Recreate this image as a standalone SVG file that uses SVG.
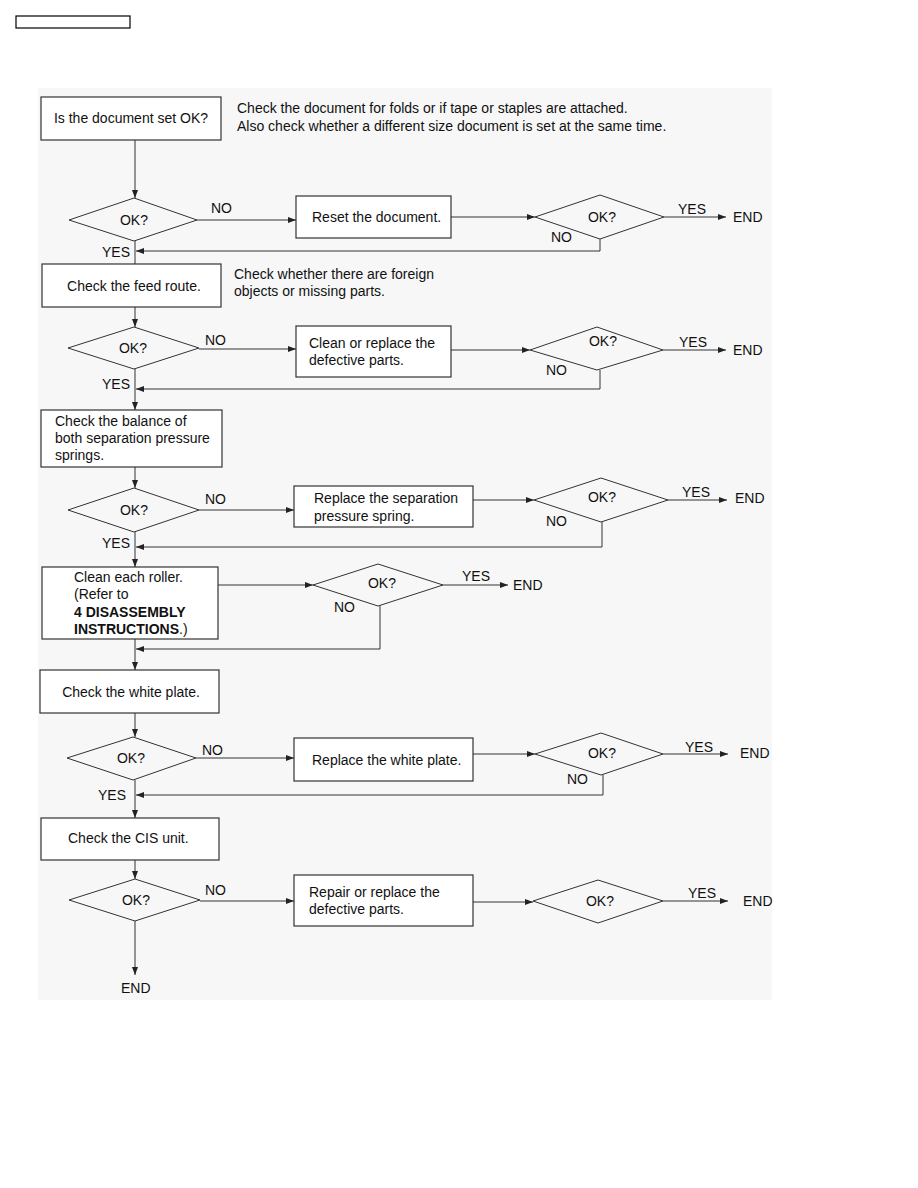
<svg xmlns="http://www.w3.org/2000/svg" width="918" height="1188" viewBox="0 0 918 1188">
<style>
.bx{fill:#fff;stroke:#333;stroke-width:1.2}
.dm{fill:none;stroke:#333;stroke-width:1}
.ln{fill:none;stroke:#333;stroke-width:1}
text{font-family:"Liberation Sans",Arial,sans-serif;font-size:14px;fill:#111}
.c{text-anchor:middle}
.b{font-weight:bold}
</style>
<defs>
<marker id="ah" markerUnits="userSpaceOnUse" markerWidth="8" markerHeight="6" refX="8" refY="3" orient="auto">
<path d="M0,0 L8,3 L0,6 z" fill="#222"/>
</marker>
</defs>
<rect x="0" y="0" width="918" height="1188" fill="#fff"/>
<rect x="38" y="88" width="734" height="912" fill="#f7f7f7"/>
<rect x="16" y="16" width="114" height="12" fill="#fff" stroke="#000" stroke-width="1.2"/>

<g id="connectors">
<path class="ln" d="M135,140 V198" marker-end="url(#ah)"/>
<path class="ln" d="M197,220 H296" marker-end="url(#ah)"/>
<path class="ln" d="M451,217 H535" marker-end="url(#ah)"/>
<path class="ln" d="M664,217 H726" marker-end="url(#ah)"/>
<path class="ln" d="M600,239 V251 H136" marker-end="url(#ah)"/>
<path class="ln" d="M135,241 V264"/>
<path class="ln" d="M135,307 V327" marker-end="url(#ah)"/>
<path class="ln" d="M199,349 H296" marker-end="url(#ah)"/>
<path class="ln" d="M451,350 H530" marker-end="url(#ah)"/>
<path class="ln" d="M663,350 H726" marker-end="url(#ah)"/>
<path class="ln" d="M600,370 V389 H136" marker-end="url(#ah)"/>
<path class="ln" d="M135,369 V410" marker-end="url(#ah)"/>
<path class="ln" d="M135,467 V488" marker-end="url(#ah)"/>
<path class="ln" d="M199,510 H294" marker-end="url(#ah)"/>
<path class="ln" d="M473,500 H534" marker-end="url(#ah)"/>
<path class="ln" d="M668,500 H727" marker-end="url(#ah)"/>
<path class="ln" d="M602,522 V547 H136" marker-end="url(#ah)"/>
<path class="ln" d="M135,532 V567" marker-end="url(#ah)"/>
<path class="ln" d="M217,585 H313" marker-end="url(#ah)"/>
<path class="ln" d="M443,585 H508" marker-end="url(#ah)"/>
<path class="ln" d="M380,606 V649 H136" marker-end="url(#ah)"/>
<path class="ln" d="M135,639 V670" marker-end="url(#ah)"/>
<path class="ln" d="M135,713 V737" marker-end="url(#ah)"/>
<path class="ln" d="M196,758 H294" marker-end="url(#ah)"/>
<path class="ln" d="M473,754 H535" marker-end="url(#ah)"/>
<path class="ln" d="M663,754 H728" marker-end="url(#ah)"/>
<path class="ln" d="M603,775 V795 H136" marker-end="url(#ah)"/>
<path class="ln" d="M135,780 V818" marker-end="url(#ah)"/>
<path class="ln" d="M135,860 V879" marker-end="url(#ah)"/>
<path class="ln" d="M200,901 H294" marker-end="url(#ah)"/>
<path class="ln" d="M473,902 H533" marker-end="url(#ah)"/>
<path class="ln" d="M663,901 H728" marker-end="url(#ah)"/>
<path class="ln" d="M135,921 V975" marker-end="url(#ah)"/>
</g>

<g id="labels">
<text x="211" y="213">NO</text>
<text x="678" y="214">YES</text>
<text x="733" y="222">END</text>
<text x="551" y="242">NO</text>
<text x="102" y="257">YES</text>
<text x="205" y="345">NO</text>
<text x="679" y="347">YES</text>
<text x="733" y="355">END</text>
<text x="546" y="375">NO</text>
<text x="102" y="389">YES</text>
<text x="205" y="504">NO</text>
<text x="682" y="497">YES</text>
<text x="735" y="503">END</text>
<text x="546" y="526">NO</text>
<text x="102" y="548">YES</text>
<text x="462" y="581">YES</text>
<text x="513" y="590">END</text>
<text x="334" y="612">NO</text>
<text x="202" y="755">NO</text>
<text x="685" y="752">YES</text>
<text x="740" y="758">END</text>
<text x="567" y="784">NO</text>
<text x="98" y="800">YES</text>
<text x="205" y="895">NO</text>
<text x="688" y="898">YES</text>
<text x="743" y="906">END</text>
<text x="121" y="993">END</text>
</g>

<g id="note1">
<text x="237" y="113">Check the document for folds or if tape or staples are attached.</text>
<text x="237" y="131">Also check whether a different size document is set at the same time.</text>
</g>
<g id="note2">
<text x="234" y="279">Check whether there are foreign</text>
<text x="234" y="296">objects or missing parts.</text>
</g>

<g id="n1"><rect class="bx" x="41" y="97" width="180" height="43"/><text class="c" x="131" y="123">Is the document set OK?</text></g>
<g id="d1"><polygon class="dm" points="69,220 134,198 197,220 134,241"/><text class="c" x="134" y="225">OK?</text></g>
<g id="n2"><rect class="bx" x="296" y="196" width="155" height="42"/><text x="312" y="222">Reset the document.</text></g>
<g id="d2"><polygon class="dm" points="535,217 600,195 664,217 600,239"/><text class="c" x="602" y="222">OK?</text></g>

<g id="n3"><rect class="bx" x="42" y="264" width="179" height="43"/><text class="c" x="134" y="291">Check the feed route.</text></g>
<g id="d3"><polygon class="dm" points="68,348 134,327 199,348 134,369"/><text class="c" x="133" y="353">OK?</text></g>
<g id="n4"><rect class="bx" x="296" y="326" width="155" height="51"/><text x="309" y="348">Clean or replace the</text><text x="309" y="365">defective parts.</text></g>
<g id="d4"><polygon class="dm" points="530,350 597,327 663,350 597,370"/><text class="c" x="603" y="346">OK?</text></g>

<g id="n5"><rect class="bx" x="41" y="410" width="181" height="57"/><text x="55" y="426">Check the balance of</text><text x="55" y="443">both separation pressure</text><text x="55" y="460">springs.</text></g>
<g id="d5"><polygon class="dm" points="68,510 134,488 199,510 134,532"/><text class="c" x="134" y="515">OK?</text></g>
<g id="n6"><rect class="bx" x="294" y="486" width="179" height="41"/><text x="314" y="503">Replace the separation</text><text x="314" y="521">pressure spring.</text></g>
<g id="d6"><polygon class="dm" points="534,500 601,478 668,500 601,522"/><text class="c" x="602" y="502">OK?</text></g>

<g id="n7"><rect class="bx" x="42" y="567" width="176" height="72"/><text x="74" y="582">Clean each roller.</text><text x="74" y="599">(Refer to</text><text class="b" x="74" y="617">4 DISASSEMBLY</text><text x="74" y="634"><tspan class="b">INSTRUCTIONS</tspan>.)</text></g>
<g id="d7"><polygon class="dm" points="313,585 378,564 443,585 378,606"/><text class="c" x="382" y="588">OK?</text></g>

<g id="n8"><rect class="bx" x="40" y="670" width="179" height="43"/><text class="c" x="131" y="697">Check the white plate.</text></g>
<g id="d8"><polygon class="dm" points="67,758 133,737 196,758 133,780"/><text class="c" x="131" y="763">OK?</text></g>
<g id="n9"><rect class="bx" x="294" y="738" width="179" height="43"/><text x="312" y="765">Replace the white plate.</text></g>
<g id="d9"><polygon class="dm" points="535,754 601,733 663,754 601,775"/><text class="c" x="602" y="758">OK?</text></g>

<g id="n10"><rect class="bx" x="41" y="818" width="178" height="42"/><text x="68" y="843">Check the CIS unit.</text></g>
<g id="d10"><polygon class="dm" points="69,900 135,879 200,900 135,921"/><text class="c" x="136" y="905">OK?</text></g>
<g id="n11"><rect class="bx" x="294" y="875" width="179" height="51"/><text x="309" y="897">Repair or replace the</text><text x="309" y="914">defective parts.</text></g>
<g id="d11"><polygon class="dm" points="533,901 598,880 663,901 598,923"/><text class="c" x="600" y="906">OK?</text></g>
</svg>
